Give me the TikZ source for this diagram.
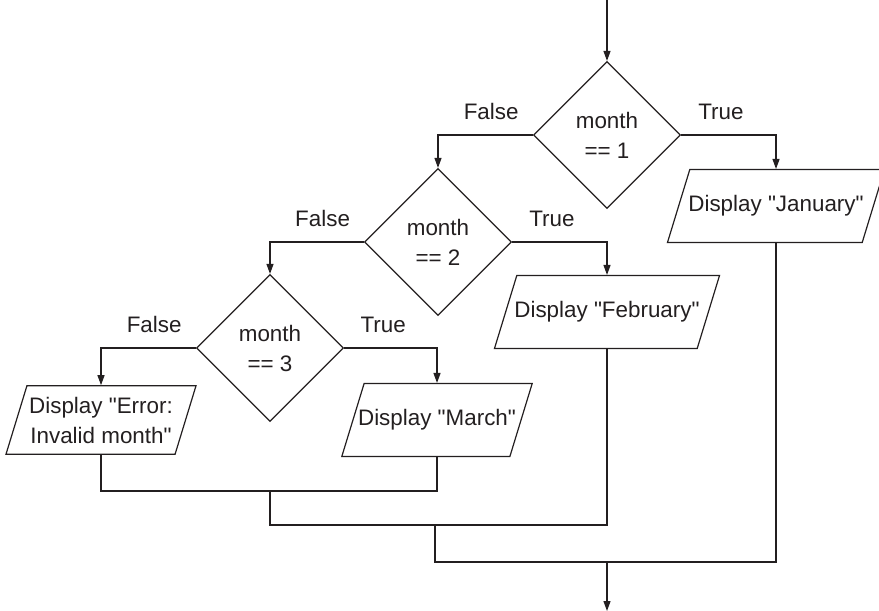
\documentclass[tikz,border=0pt]{standalone}
\usepackage{fontspec}
\setmainfont{Liberation Sans}[Ligatures=TeXOff]
\usetikzlibrary{shapes.geometric,arrows.meta}
\definecolor{ink}{HTML}{231F20}

\begin{document}
\begin{tikzpicture}[
  x=0.5pt, y=-0.5pt,
  every node/.style={font=\fontsize{11.2}{15}\selectfont, text=ink},
  decision/.style={diamond, aspect=1, draw=ink, line width=0.6pt,
    minimum width=73.5pt, minimum height=73.5pt, align=center, inner sep=1pt},
  output/.style={trapezium, trapezium left angle=73, trapezium right angle=107,
    trapezium stretches body, draw=ink, line width=0.6pt,
    align=center, inner xsep=-3pt, inner ysep=13pt},
  arr/.style={-{Triangle[length=5pt, width=3.5pt]}, line width=0.6pt, draw=ink},
  conn/.style={line width=0.6pt, draw=ink},
  lbl/.style={inner sep=0pt, above=7.5pt},
]
\useasboundingbox (0,0) rectangle (879,611);

% Decisions (staircase to the lower left)
\node[decision] (m1) at (607,135) {month\\== 1};
\node[decision] (m2) at (438,242) {month\\== 2};
\node[decision] (m3) at (270,348) {month\\== 3};

% Outputs
\node[output, minimum width=108.5pt] (jan) at (776,206) {Display "January"};
\node[output, minimum width=112.5pt] (feb) at (607,312) {Display "February"};
\node[output, minimum width=94.5pt] (mar) at (437,420) {Display "March"};
\node[output, minimum width=95pt, inner ysep=5.5pt] (err) at (101,420)
  {Display "Error:\\Invalid month"};

% Junctions
\coordinate (top) at (607,0);
\coordinate (j1) at (270,491);
\coordinate (j2) at (435,525);
\coordinate (j3) at (607,562);
\coordinate (bottom) at (607,611);

% Branches
\draw[arr] (top) -- (m1.north);
\draw[arr] (m1.west) -| node[lbl, pos=0.22] {False} (m2.north);
\draw[arr] (m1.east) -| node[lbl, pos=0.21] {True} (jan.north);
\draw[arr] (m2.west) -| node[lbl, pos=0.22] {False} (m3.north);
\draw[arr] (m2.east) -| node[lbl, pos=0.21] {True} (feb.north);
\draw[arr] (m3.west) -| node[lbl, pos=0.22] {False} (err.north);
\draw[arr] (m3.east) -| node[lbl, pos=0.21] {True} (mar.north);

% Merging back
\draw[conn] (err.south) |- (j1) -| (mar.south);
\draw[conn] (j1) |- (j2) -| (feb.south);
\draw[conn] (j2) |- (j3) -| (jan.south);
\draw[arr] (j3) -- (bottom);
\end{tikzpicture}
\end{document}
